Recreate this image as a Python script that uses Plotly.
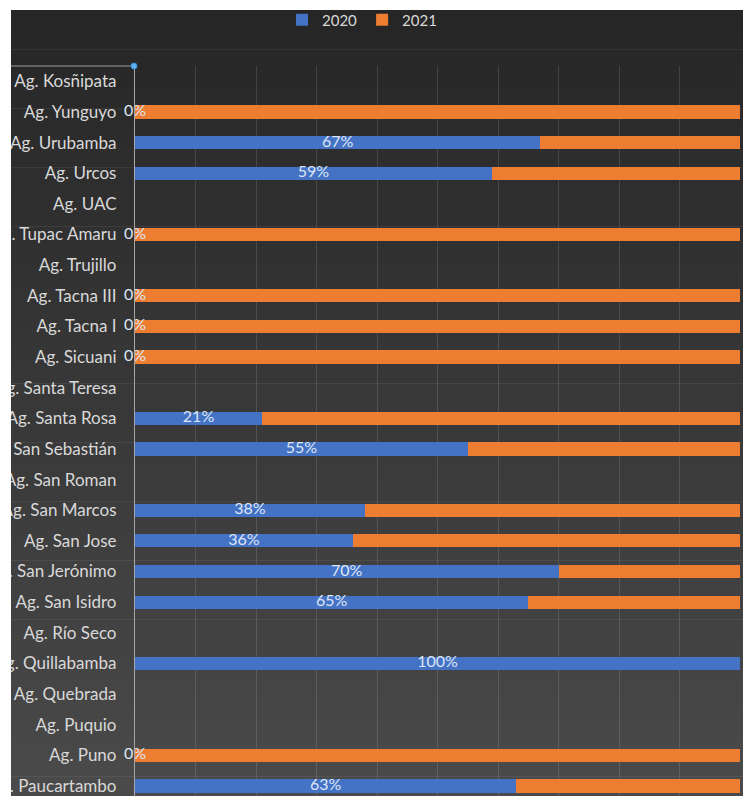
import plotly.graph_objects as go

categories = ["Ag. Kosñipata", "Ag. Yunguyo", "Ag. Urubamba", "Ag. Urcos", "Ag. UAC",
              "Ag. Tupac Amaru", "Ag. Trujillo", "Ag. Tacna III", "Ag. Tacna I", "Ag. Sicuani",
              "Ag. Santa Teresa", "Ag. Santa Rosa", "Ag. San Sebastián", "Ag. San Roman",
              "Ag. San Marcos", "Ag. San Jose", "Ag. San Jerónimo", "Ag. San Isidro",
              "Ag. Río Seco", "Ag. Quillabamba", "Ag. Quebrada", "Ag. Puquio", "Ag. Puno",
              "Ag. Paucartambo"]
pct_2020 = [None, 0, 67, 59, None, 0, None, 0, 0, 0, None, 21, 55, None, 38, 36, 70, 65,
            None, 100, None, None, 0, 63]
pct_2021 = [None if v is None else 100 - v for v in pct_2020]
series_names = ["2020", "2021"]

OFF = 8  # page body margin
PAGE_W, PAGE_H = 751, 796
W, H = PAGE_W - OFF, PAGE_H - OFF
# plot area in page pixels: x 135..740, y 66..796
ML, MR, MT, MB = 135 - OFF, PAGE_W - 740, 66 - OFF, 0
PW, PH = W - ML - MR, H - MT - MB

def px_x(p):  # page pixel -> paper x
    return (p - OFF - ML) / PW

def px_y(p):  # page pixel -> paper y
    return (H - MB - (p - OFF)) / PH

fig = go.Figure()
fig.add_trace(go.Bar(y=categories, x=pct_2020, name=series_names[0], orientation="h",
                     marker=dict(color="#4472c4", line=dict(width=0)), width=0.43,
                     hoverinfo="skip"))
fig.add_trace(go.Bar(y=categories, x=pct_2021, name=series_names[1], orientation="h",
                     marker=dict(color="#ed7d31", line=dict(width=0)), width=0.43,
                     hoverinfo="skip"))

lab_x, lab_y, lab_t = [], [], []
for c, v in zip(categories, pct_2020):
    if v is not None:
        lab_x.append(v / 2)
        lab_y.append(c)
        lab_t.append(f"{v}%")
fig.add_trace(go.Scatter(x=lab_x, y=lab_y, text=lab_t, mode="text", showlegend=False,
                         textfont=dict(family="Lato", size=16, color="#dce6f4"),
                         cliponaxis=False, hoverinfo="skip"))

# background gradient
shapes = []
n = 40
top_px, bot_px = 10, PAGE_H
c0, c1 = (0x26, 0x26, 0x26), (0x4a, 0x4a, 0x4a)
for i in range(n):
    y0p = top_px + (bot_px - top_px) * i / n
    y1p = top_px + (bot_px - top_px) * (i + 1) / n
    t = (i + 0.5) / n
    col = tuple(int(round(a + (b - a) * t)) for a, b in zip(c0, c1))
    shapes.append(dict(type="rect", xref="paper", yref="paper", layer="below",
                       x0=px_x(11), x1=px_x(PAGE_W + 2), y0=px_y(y1p + 0.5), y1=px_y(y0p),
                       fillcolor="rgb(%d,%d,%d)" % col, line=dict(width=0)))
# white strips covering left and top edges
shapes.append(dict(type="rect", xref="paper", yref="paper", layer="above",
                   x0=px_x(0), x1=px_x(11), y0=px_y(PAGE_H + 5), y1=px_y(0),
                   fillcolor="white", line=dict(width=0)))
shapes.append(dict(type="rect", xref="paper", yref="paper", layer="above",
                   x0=px_x(0), x1=px_x(PAGE_W + 5), y0=px_y(10), y1=px_y(0),
                   fillcolor="white", line=dict(width=0)))
# selection line + handle at top-left corner of plot
shapes.append(dict(type="line", xref="paper", yref="paper", layer="above",
                   x0=px_x(11), x1=0, y0=1, y1=1, line=dict(color="#9a9a9a", width=1.2)))
shapes.append(dict(type="circle", xref="paper", yref="paper", layer="above",
                   x0=px_x(131), x1=px_x(137), y0=px_y(69), y1=px_y(63),
                   fillcolor="#5fb0f0", line=dict(color="#3c8fd8", width=1)))

fig.update_layout(
    width=W, height=H,
    margin=dict(l=ML, r=MR, t=MT, b=MB),
    paper_bgcolor="white",
    plot_bgcolor="rgba(0,0,0,0)",
    barmode="stack",
    shapes=shapes,
    showlegend=True,
    legend=dict(orientation="h", xref="container", yref="container", traceorder="normal",
                x=(362 - OFF) / W, xanchor="center", y=1 - (20 - OFF) / H, yanchor="middle",
                font=dict(family="Lato", size=15, color="#d9d9d9"),
                bgcolor="rgba(0,0,0,0)", itemwidth=30, tracegroupgap=0),
    xaxis=dict(range=[0, 100], dtick=10, showticklabels=False, showgrid=True,
               gridcolor="rgba(255,255,255,0.12)", gridwidth=1, zeroline=False,
               showline=False, fixedrange=True),
    yaxis=dict(type="category", categoryorder="array", categoryarray=categories,
               range=[23 + (PAGE_H - 786) / 30.6, -0.5], showgrid=False, zeroline=False,
               showline=True, linecolor="#a6a6a6", linewidth=1.2, ticks="",
               ticklabelstandoff=14,
               tickfont=dict(family="Lato", size=17, color="#d9d9d9"),
               automargin=False, fixedrange=True),
    font=dict(family="Lato"),
)

fig.write_html("out.html")
